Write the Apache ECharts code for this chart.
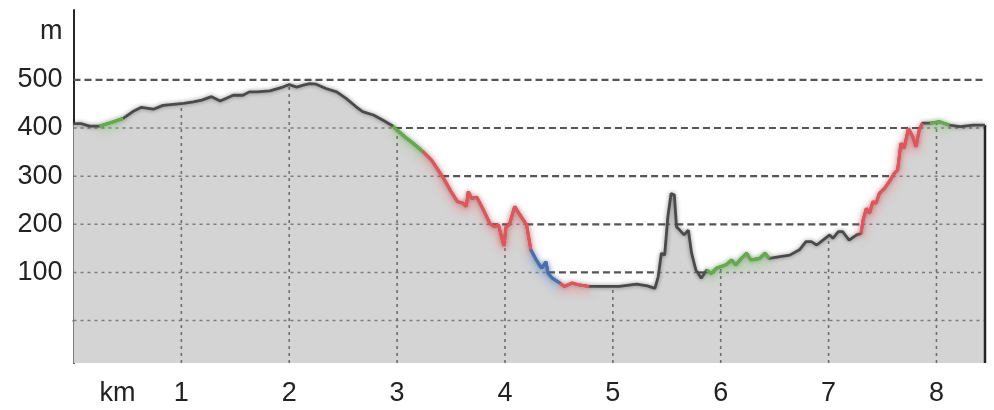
<!DOCTYPE html>
<html><head><meta charset="utf-8">
<script src="https://cdn.jsdelivr.net/npm/echarts@6/dist/echarts.min.js"></script>
<style>html,body{margin:0;padding:0;background:#fff}#c{width:994px;height:410px}</style>
</head><body><div id="c"></div>
<script>
// ---- data ----
const distanceKm = [0.00,0.07,0.15,0.24,0.37,0.46,0.55,0.63,0.74,0.83,1.02,1.11,1.19,1.28,1.36,1.48,1.57,1.63,1.70,1.82,1.94,2.00,2.07,2.13,2.19,2.25,2.34,2.44,2.53,2.62,2.68,2.78,2.87,2.96,3.02,3.07,3.15,3.24,3.32,3.38,3.44,3.50,3.56,3.61,3.64,3.66,3.69,3.74,3.80,3.86,3.90,3.94,3.96,3.99,4.01,4.04,4.09,4.14,4.20,4.24,4.29,4.34,4.38,4.40,4.44,4.51,4.55,4.62,4.69,4.78,4.87,5.06,5.22,5.32,5.39,5.42,5.45,5.48,5.51,5.54,5.57,5.59,5.62,5.66,5.70,5.73,5.77,5.82,5.87,5.91,5.96,6.05,6.10,6.14,6.19,6.24,6.28,6.36,6.41,6.45,6.55,6.64,6.73,6.79,6.84,6.89,6.93,7.01,7.04,7.09,7.13,7.19,7.26,7.30,7.32,7.35,7.38,7.41,7.44,7.47,7.52,7.56,7.61,7.64,7.67,7.70,7.74,7.78,7.81,7.84,7.87,7.94,8.03,8.12,8.22,8.34,8.45];
const elevationM = [409,409,404,404,413,420,434,443,439,447,451,454,458,465,456,468,468,475,475,477,485,490,485,489,492,491,482,475,461,444,434,427,416,404,392,382,368,351,333,313,292,268,247,244,237,268,254,256,230,202,195,199,181,155,195,199,237,219,199,147,126,109,122,98,88,78,71,78,74,71,71,71,76,72,67,91,140,136,216,264,261,195,188,178,188,140,105,88,105,98,109,116,126,116,129,140,126,129,140,129,133,136,147,164,164,157,164,178,171,185,185,167,178,181,209,233,223,247,244,264,275,288,306,313,368,358,399,382,361,396,410,410,413,406,403,406,406];

const xTickValues = [0,1,2,3,4,5,6,7,8];
const xTickLabels = ['km','1','2','3','4','5','6','7','8'];
const yTickValues = [100,200,300,400,500,600];
const yTickLabels = ['100','200','300','400','500','m'];
const gridLevelsM = [0,100,200,300,400,500];
const gridKm = [1,2,3,4,5,6,7,8];

// slope-class stretches of the profile
const gradeFrom  = [0.24, 2.96, 3.24, 4.24, 4.51, 5.87, 7.30, 7.94];
const gradeTo    = [0.46, 3.24, 4.24, 4.51, 4.78, 6.45, 7.87, 8.12];
const gradeClass = ['moderate','moderate','steep','extreme','steep','moderate','steep','moderate'];

// ---- build ----
const profile = distanceKm.map((d, i) => [d, elevationM[i]]);
const Y_MIN = -88, Y_MAX = 645;
const X_MAX = distanceKm[distanceKm.length - 1];

const classStyle = {
  moderate: { color: '#62ad4a', glow: 'rgba(120,205,100,0.9)' },
  steep:    { color: '#e4555a', glow: 'rgba(248,110,115,0.9)' },
  extreme:  { color: '#4570b2', glow: 'rgba(90,140,220,0.9)' }
};

function elevAt(x) {
  for (let i = 0; i < distanceKm.length - 1; i++) {
    const x1 = distanceKm[i], x2 = distanceKm[i + 1];
    if (x >= x1 && x <= x2) {
      const t = (x - x1) / (x2 - x1);
      return elevationM[i] + t * (elevationM[i + 1] - elevationM[i]);
    }
  }
  return elevationM[elevationM.length - 1];
}

const fineH = { stroke: '#7c7c7c', lineWidth: 1.5, lineDash: [3, 4] };
const fineV = { stroke: '#6e6e6e', lineWidth: 1.6, lineDash: [3, 4] };
const bold  = { stroke: '#555555', lineWidth: 2.2, lineDash: [7, 4] };

function renderGrid(params, api) {
  const children = [];
  gridLevelsM.forEach(v => {
    const pts = [[0, elevationM[0] > v]];
    for (let i = 0; i < distanceKm.length - 1; i++) {
      const y1 = elevationM[i], y2 = elevationM[i + 1];
      if ((y1 - v) * (y2 - v) < 0) {
        const xc = distanceKm[i] + (v - y1) / (y2 - y1) * (distanceKm[i + 1] - distanceKm[i]);
        pts.push([xc, y2 > v]);
      }
    }
    pts.push([X_MAX, null]);
    for (let j = 0; j < pts.length - 1; j++) {
      const a = api.coord([pts[j][0], v]), b = api.coord([pts[j + 1][0], v]);
      children.push({ type: 'line', shape: { x1: a[0], y1: a[1], x2: b[0], y2: b[1] },
        style: Object.assign({}, pts[j][1] ? fineH : bold) });
    }
  });
  gridKm.forEach(k => {
    const a = api.coord([k, Y_MIN]), b = api.coord([k, elevAt(k)]);
    children.push({ type: 'line', shape: { x1: a[0], y1: a[1], x2: b[0], y2: b[1] },
      style: Object.assign({}, fineV) });
  });
  const e1 = api.coord([X_MAX, elevationM[elevationM.length - 1]]), e2 = api.coord([X_MAX, Y_MIN]);
  children.push({ type: 'line', shape: { x1: e1[0], y1: e1[1], x2: e2[0], y2: e2[1] },
    style: { stroke: '#262626', lineWidth: 2.5 } });
  return { type: 'group', children };
}

const series = [
  { type: 'line', data: profile, symbol: 'none', silent: true, z: 1,
    lineStyle: { opacity: 0 }, areaStyle: { color: '#d4d4d4', opacity: 1, origin: 'start' } },
  { type: 'custom', data: [[0, 0]], renderItem: renderGrid, silent: true, z: 2, clip: false },
  { type: 'line', data: profile, symbol: 'none', silent: true, z: 3,
    lineStyle: { color: '#4a4a4a', width: 2.8, shadowColor: 'rgba(0,0,0,0.45)', shadowBlur: 4 } }
];
gradeFrom.forEach((f, i) => {
  const t = gradeTo[i], st = classStyle[gradeClass[i]];
  series.push({ type: 'line', symbol: 'none', silent: true, z: 4,
    data: profile.filter(p => p[0] >= f - 1e-9 && p[0] <= t + 1e-9),
    lineStyle: { color: st.color, width: 3, shadowColor: st.glow, shadowBlur: 10, shadowOffsetY: 4 } });
});

const FONT = 'Liberation Sans, Arial, sans-serif';
const chart = echarts.init(document.getElementById('c'), null, { renderer: 'canvas' });
chart.setOption({
  animation: false,
  backgroundColor: '#fff',
  grid: { left: 73.5, right: 9, top: 10, bottom: 47 },
  xAxis: {
    type: 'value', min: 0, max: X_MAX,
    axisLine: { show: true, lineStyle: { color: '#262626', width: 2 } },
    axisTick: { show: false }, splitLine: { show: false },
    axisLabel: {
      customValues: xTickValues, hideOverlap: false,
      formatter: v => { const i = xTickValues.indexOf(v); const s = i >= 0 ? xTickLabels[i] : ''; return v === 0 ? '{k|' + s + '}' : s; },
      color: '#222', fontSize: 27, fontFamily: FONT, margin: 17,
      rich: { k: { padding: [0, 0, 0, 88], color: '#222', fontSize: 27, fontFamily: FONT } }
    }
  },
  yAxis: {
    type: 'value', min: Y_MIN, max: Y_MAX,
    axisLine: { show: true, lineStyle: { color: '#262626', width: 2 } },
    axisTick: { show: false }, splitLine: { show: false },
    axisLabel: {
      customValues: yTickValues, hideOverlap: false,
      formatter: v => { const i = yTickValues.indexOf(v); return i >= 0 ? yTickLabels[i] : ''; },
      color: '#222', fontSize: 27, fontFamily: FONT, margin: 11, padding: [12, 0, 0, 0]
    }
  },
  series
});
</script></body></html>
